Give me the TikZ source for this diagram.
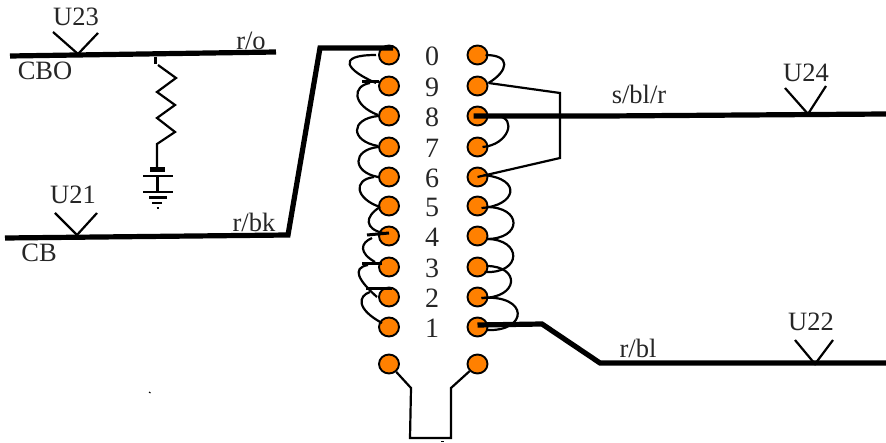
\documentclass[tikz,border=0pt]{standalone}
\usepackage{fontspec}
\setmainfont{Liberation Serif}
\usetikzlibrary{shapes.geometric}
\definecolor{pinorange}{HTML}{FF8000}
\tikzset{
  pin/.style={ellipse,draw=black,line width=1.9pt,fill=pinorange,minimum width=20pt,minimum height=19pt,inner sep=0pt},
  lab/.style={inner sep=0pt,font=\fontsize{26.5}{27}\selectfont,text=black!85},
  dig/.style={inner sep=0pt,font=\fontsize{28}{28}\selectfont,text=black!85},
  wire/.style={line width=2.2pt,line join=miter},
  bus/.style={line width=5.2pt,line join=miter},
  stub/.style={line width=3pt},
  vee/.style={line width=2.2pt},
  gnd/.style={line width=2.8pt}
}
\newcommand{\lnk}[6]{\draw[wire] ([shift={(#2)}]#1.center) .. controls +(#3) and +(#4) .. ([shift={(#6)}]#5.center);}
\begin{document}
\begin{tikzpicture}[x=1pt,y=-1pt]
\useasboundingbox (0,0) rectangle (886,443);
% pins
\foreach \n/\y in {0/55,9/86,8/116,7/147,6/177,5/206,4/236,3/267,2/297,1/327}{
  \node[pin] (l\n) at (389,\y) {};
  \node[pin] (r\n) at (477.5,\y) {};
  \node[dig] (d\n) at (432,\y+1) {\n};
}
\node[pin] (lx) at (389,364) {};
\node[pin] (rx) at (477.5,364) {};
% left loops
\lnk{l0}{-13,0}{-42,0}{-28,-12}{l9}{-13,-3}
\lnk{l9}{-19,-3}{-18,3}{-26,-10}{l8}{-11,-1}
\lnk{l8}{-11,0}{-28,3}{-28,-5}{l7}{-11,-1}
\lnk{l7}{-11,0}{-26,3}{-26,-5}{l6}{-11,0}
\lnk{l6}{-15,0}{-22,3}{-24,-8}{l5}{-9,1}
\lnk{l5}{-9,1}{-16,10}{-18,-4}{l4}{-6,-3}
\lnk{l4}{-17,2}{-12,5}{-16,-9}{l3}{-14,-5}
\lnk{l3}{-21,-2}{-17,3}{-18,-16}{l2}{-12,0}
\lnk{l2}{-19,-5}{-12,4}{-26,-14}{l1}{-7,-4}
\draw[stub] ([shift={(-10,-4)}]l9.center) -- ([shift={(-27,-4)}]l9.center);
\draw[stub] ([shift={(0,-3)}]l4.center) -- ([shift={(-22,-1)}]l4.center);
\draw[stub] ([shift={(-7,-3)}]l3.center) -- ([shift={(-27,-3)}]l3.center);
\draw[stub] ([shift={(3,-8)}]l2.center) -- ([shift={(-23,-8)}]l2.center);
% right loops
\lnk{r0}{8,0}{26,0}{20,-12}{r9}{11,-3}
\lnk{r8}{20,0}{20,2}{26,-2}{r7}{5,0}
\lnk{r6}{6,-2}{40,4}{34,-2}{r5}{4,2}
\lnk{r5}{9,1}{36,0}{36,0}{r4}{9,3}
\lnk{r4}{9,3}{36,0}{38,2}{r3}{7,5}
\lnk{r3}{9,-1}{34,0}{38,0}{r2}{4,1}
\lnk{r2}{4,1}{48,-4}{42,2}{r1}{9,3}
% bracket between pins 9 and 6
\coordinate (bt) at (560,93);
\coordinate (bb) at (560,158);
\draw[wire] ([shift={(11,-3)}]r9.center) -- (bt) -- (bb) -- (r6.center);
% bottom link
\coordinate (b1) at (411,388);
\coordinate (b2) at (410,438);
\coordinate (b3) at (451,438);
\coordinate (b4) at (451,388);
\draw[wire] (lx) -- (b1) -- (b2) -- (b3) -- (b4) -- (rx);
% heavy lines
\coordinate (cb0) at (5,238);
\coordinate (cb1) at (288,235);
\coordinate (cb2) at (320,48);
\coordinate (cb3) at (393,48);
\draw[bus] (cb0) -- (cb1) -- (cb2) -- (cb3);
\coordinate (cbo0) at (10,56);
\coordinate (cbo1) at (276,52);
\draw[bus] (cbo0) -- (cbo1);
\coordinate (s1) at (606,116);
\coordinate (s2) at (886,114);
\draw[bus] (r8.center) ++(-4,0) -- (s1) -- (s2);
\coordinate (t1) at (542,324);
\coordinate (t2) at (600,363);
\coordinate (t3) at (886,363);
\draw[bus] ([shift={(0,-2)}]r1.center) -- (t1) -- (t2) -- (t3);
% vees
\coordinate (u23a) at (53,32); \coordinate (u23b) at (78,54); \coordinate (u23c) at (98,33);
\draw[vee] (u23a) -- (u23b) -- (u23c);
\coordinate (u21a) at (55,213); \coordinate (u21b) at (77,235); \coordinate (u21c) at (97,213);
\draw[vee] (u21a) -- (u21b) -- (u21c);
\coordinate (u24a) at (785,88); \coordinate (u24b) at (808,114); \coordinate (u24c) at (826,86);
\draw[vee] (u24a) -- (u24b) -- (u24c);
\coordinate (u22a) at (795,340); \coordinate (u22b) at (815,364); \coordinate (u22c) at (833,340);
\draw[vee] (u22a) -- (u22b) -- (u22c);
% resistor and ground
\coordinate (res0) at (155,57); \coordinate (res1) at (155,64);
\draw[line width=3pt] (res0) -- (res1);
\coordinate (z0) at (158,65); \coordinate (z1) at (176,78); \coordinate (z2) at (157,92);
\coordinate (z3) at (175,105); \coordinate (z4) at (157,118); \coordinate (z5) at (175,132);
\coordinate (z6) at (157,144); \coordinate (z7) at (157,170);
\draw[wire] (z0) -- (z1) -- (z2) -- (z3) -- (z4) -- (z5) -- (z6) -- (z7);
\coordinate (g0l) at (150,170); \coordinate (g0r) at (165,170);
\draw[line width=5pt] (g0l) -- (g0r);
\coordinate (g1l) at (143,176); \coordinate (g1r) at (173,176);
\coordinate (g2l) at (143,192); \coordinate (g2r) at (173,192);
\coordinate (g3l) at (149,197.5); \coordinate (g3r) at (167,197.5);
\coordinate (g4l) at (152,203); \coordinate (g4r) at (162,203);
\coordinate (g5l) at (156.5,208); \coordinate (g5r) at (159,208);
\coordinate (gm1) at (157.5,176); \coordinate (gm2) at (157.5,192);
\draw[gnd] (g1l) -- (g1r);
\draw[gnd] (g2l) -- (g2r);
\draw[gnd] (g3l) -- (g3r);
\draw[gnd] (g4l) -- (g4r);
\draw[gnd] (g5l) -- (g5r);
\draw[wire] (gm1) -- (gm2);
% specks
\coordinate (sp1) at (149,392); \coordinate (sp2) at (150.5,393);
\draw[line width=1pt] (sp1) -- (sp2);
\coordinate (sp3) at (441,441); \coordinate (sp4) at (444,441);
\draw[line width=1pt] (sp3) -- (sp4);
% labels
\node[lab] (tu23) at (76,17) {U23};
\node[lab] (tcbo) at (45,71) {CBO};
\node[lab] (tro) at (251,41) {r/o};
\node[lab] (tu21) at (73,195) {U21};
\node[lab] (trbk) at (254,222) {r/bk};
\node[lab] (tcb) at (39,253) {CB};
\node[lab] (tsbl) at (639,94) {s/bl/r};
\node[lab] (tu24) at (806,73) {U24};
\node[lab] (trbl) at (638,348) {r/bl};
\node[lab] (tu22) at (811,322) {U22};
\end{tikzpicture}
\end{document}
